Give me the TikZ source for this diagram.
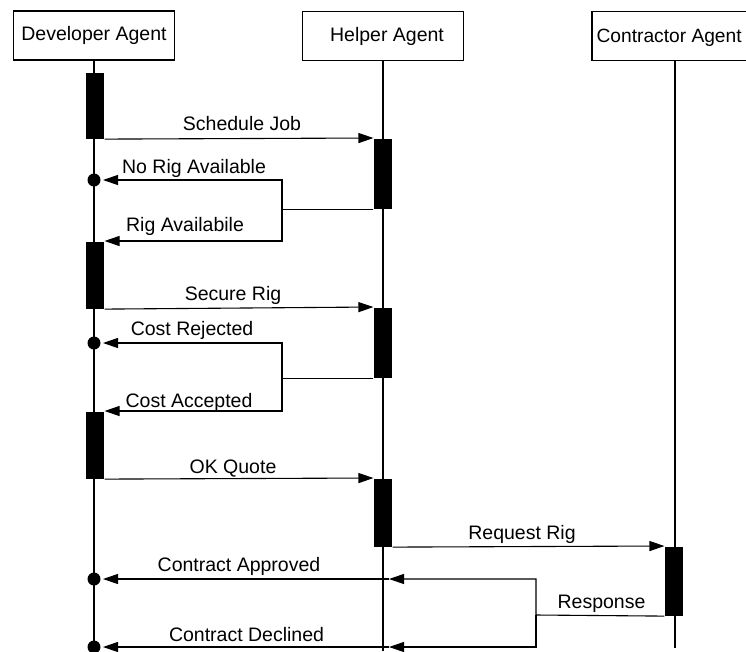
\documentclass[tikz,border=0pt]{standalone}
\usepackage{fontspec}
\setmainfont{Liberation Sans}
\usetikzlibrary{arrows.meta}
\begin{document}
\begin{tikzpicture}[x=1pt,y=-1pt,line width=1.1pt,
  agent/.style={draw,minimum width=161pt,minimum height=49pt,inner sep=0pt,font=\fontsize{19.5}{22}\selectfont},
  bar/.style={fill=black,draw=none,minimum width=18pt,inner sep=0pt,anchor=north},
  lbl/.style={font=\fontsize{19.5}{22}\selectfont,inner sep=0pt,anchor=base},
  msg/.style={-{Triangle[length=15pt,width=10pt]}},
  dotc/.style={circle,fill=black,draw=none,minimum size=13pt,inner sep=0pt}]
\useasboundingbox (0,0) rectangle (746,651);
% agents
\node[agent] (dev) at (94,35.5) {Developer Agent};
\node[agent] (hlp) at (383,36) {\hspace{8pt}Helper Agent};
\node[agent,minimum width=166pt] (con) at (675,36) {};
\node[lbl,anchor=base west,font=\fontsize{19.2}{22}\selectfont] (conT) at (596,42.5) {Contractor Agent};
% lifeline ends
\coordinate (devEnd) at (94,651);
\coordinate (hlpEnd) at (383,651);
\coordinate (conEnd) at (675,648);
\draw (dev.south) -- (devEnd);
\draw (hlp.south) -- (hlpEnd);
\draw (con.south) -- (conEnd);
% activation bars
\node[bar,minimum height=66pt] (d1) at (95,72) {};
\node[bar,minimum height=70pt] (h1) at (383,138) {};
\node[bar,minimum height=67pt] (d2) at (95,241) {};
\node[bar,minimum height=70pt] (h2) at (383,307) {};
\node[bar,minimum height=67pt] (d3) at (95,411) {};
\node[bar,minimum height=68pt] (h3) at (383,478) {};
\node[bar,minimum height=69pt] (c1) at (674,546) {};
% dots
\node[dotc] (p1) at (94,180) {};
\node[dotc] (p2) at (94,343) {};
\node[dotc] (p3) at (94,579) {};
\node[dotc] (p4) at (94,647) {};
% turning points
\coordinate (k1) at (282,180);
\coordinate (t1) at (103,180);
\coordinate (j1) at (282,208);
\coordinate (k2) at (282,241);
\coordinate (k3) at (282,343);
\coordinate (t3) at (103,343);
\coordinate (j3) at (282,377);
\coordinate (k4) at (282,411);
\coordinate (q1) at (536,615);
\coordinate (q2) at (536,579);
\coordinate (q3) at (536,647);
\coordinate (hA) at (389,579);
\coordinate (dA) at (103,579);
\coordinate (hB) at (389,647);
\coordinate (dB) at (103,647);
% messages
\draw[msg] (d1.south east) -- (h1.north west);
\draw[msg] (h1.south west) -| (k1) -- (t1);
\draw[msg] (j1) -- (k2) -- (d2.north east);
\draw[msg] (d2.south east) -- (h2.north west);
\draw[msg] (h2.south west) -| (k3) -- (t3);
\draw[msg] (j3) -- (k4) -- (d3.north east);
\draw[msg] (d3.south east) -- (h3.north west);
\draw[msg] (h3.south east) -- (c1.north west);
\draw[msg] (c1.south west) -- (q1) -- (q2) -- (hA);
\draw[msg] (hA) -- (dA);
\draw[msg] (q1) -- (q3) -- (hB);
\draw[msg] (hB) -- (dB);
% labels
\node[lbl] (l1) at (242,130) {Schedule Job};
\node[lbl] (l2) at (194,173) {No Rig Available};
\node[lbl] (l3) at (185,231.5) {Rig Availabile};
\node[lbl] (l4) at (233,300) {Secure Rig};
\node[lbl] (l5) at (192,335) {Cost Rejected};
\node[lbl] (l6) at (189,407.5) {Cost Accepted};
\node[lbl] (l7) at (233,473) {OK Quote};
\node[lbl] (l8) at (522,539) {Request Rig};
\node[lbl] (l9) at (239,571.5) {Contract Approved};
\node[lbl] (l10) at (601.5,608) {Response};
\node[lbl] (l11) at (246.5,641) {Contract Declined};
\end{tikzpicture}
\end{document}
